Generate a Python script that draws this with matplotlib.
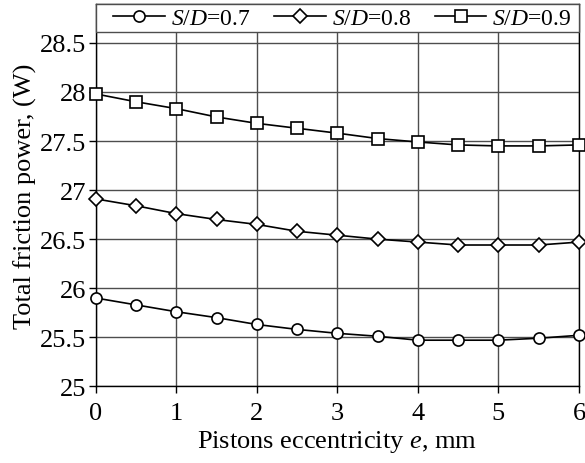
import matplotlib
matplotlib.use("Agg")
import matplotlib.pyplot as plt
from matplotlib.patches import Rectangle

plt.rcParams['font.family'] = ['Liberation Serif', 'DejaVu Serif']
plt.rcParams['mathtext.fontset'] = 'custom'
plt.rcParams['mathtext.rm'] = 'Liberation Serif'
plt.rcParams['mathtext.it'] = 'Liberation Serif:italic'

# Eccentricity (mm) and total friction power (W) for each stroke/bore ratio
eccentricity = [0, 0.5, 1, 1.5, 2, 2.5, 3, 3.5, 4, 4.5, 5, 5.5, 6]
power_sd07 = [25.90, 25.83, 25.76, 25.70, 25.63, 25.58, 25.54, 25.51, 25.47, 25.47, 25.47, 25.49, 25.52]
power_sd08 = [26.91, 26.84, 26.76, 26.70, 26.65, 26.58, 26.54, 26.50, 26.47, 26.44, 26.44, 26.44, 26.47]
power_sd09 = [27.98, 27.90, 27.83, 27.745, 27.68, 27.63, 27.58, 27.525, 27.49, 27.46, 27.45, 27.45, 27.46]
series_labels = [r'$S/D$=0.7', r'$S/D$=0.8', r'$S/D$=0.9']
x_ticks = [0, 1, 2, 3, 4, 5, 6]
y_ticks = [25, 25.5, 26, 26.5, 27, 27.5, 28, 28.5]
y_tick_labels = ['25', '25.5', '26', '26.5', '27', '27.5', '28', '28.5']

fig = plt.figure(figsize=(5.85, 4.64), dpi=100)
ax = fig.add_axes([0.1636, 0.1653, 0.9897 - 0.1636, 0.9900 - 0.1653])

styles = [('o', 8), ('D', 7), ('s', 8)]
for values, label, (mk, ms) in zip([power_sd07, power_sd08, power_sd09], series_labels, styles):
    ax.plot(eccentricity, values, color='black', lw=1.2, marker=mk, ms=ms,
            mfc='white', mec='black', mew=1.2, label=label, clip_on=False, zorder=3)

ax.set_xlim(0, 6)
ax.set_ylim(25, 28.9)
ax.set_xticks(x_ticks)
ax.set_xticklabels([str(t) for t in x_ticks])
ax.set_yticks(y_ticks)
ax.set_yticklabels(y_tick_labels)
ax.tick_params(axis='both', direction='out', length=5, width=1, labelsize=19, colors='black')
ax.tick_params(axis='x', pad=6)
ax.tick_params(axis='y', pad=2)
ax.grid(True, color='0.3', lw=1)
ax.set_axisbelow(True)
for sp in ax.spines.values():
    sp.set_color('black')
    sp.set_linewidth(1)

ax.set_xlabel(r'Pistons eccentricity $e$, mm', fontsize=19, labelpad=3)
ax.set_ylabel('Total friction power, (W)', fontsize=19, labelpad=2)

# Full-width legend band across the top of the plotting area
band = Rectangle((0, 0.926), 1, 0.074, transform=ax.transAxes, facecolor='white',
                 edgecolor='0.3', lw=1, zorder=4, clip_on=False)
ax.add_patch(band)
leg = ax.legend(loc='center', bbox_to_anchor=(0.51, 0.961), ncol=3, frameon=False,
                fontsize=17, handlelength=2.2, handletextpad=0.25, columnspacing=1.0,
                borderpad=0, borderaxespad=0)
leg.set_zorder(5)

fig.savefig('out.png', dpi=100)
